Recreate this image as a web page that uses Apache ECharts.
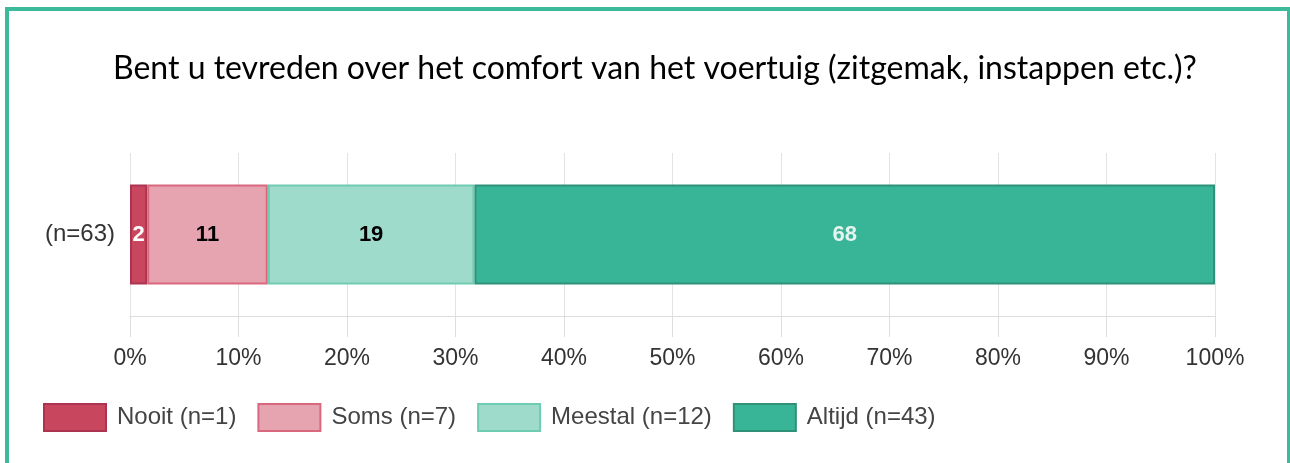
<!DOCTYPE html>
<html>
<head>
<meta charset="utf-8">
<script src="https://cdn.jsdelivr.net/npm/echarts@6/dist/echarts.min.js"></script>
<style>
  html, body { margin: 0; padding: 0; background: #fff; }
  .frame {
    position: absolute; left: 5px; top: 7px; width: 1278px; height: 470px;
    border: 4px solid #3dba9b; border-bottom: none;
  }
  #chart { position: absolute; left: 0; top: 0; width: 1290px; height: 463px; }
</style>
</head>
<body>
<div class="frame"></div>
<div id="chart"></div>
<script>
// data
const categories = ['(n=63)'];
const total = 63;
const seriesNames = ['Nooit (n=1)', 'Soms (n=7)', 'Meestal (n=12)', 'Altijd (n=43)'];
const counts = [1, 7, 12, 43];
const tickLabels = ['0%', '10%', '20%', '30%', '40%', '50%', '60%', '70%', '80%', '90%', '100%'];

const fills = ['#c8475f', '#e6a3b0', '#9edbcb', '#38b597'];
const borders = ['#ad3450', '#d9687f', '#6fcbb1', '#2f9178'];
const labelColors = ['#ffffff', '#000000', '#000000', '#e6f4ef'];

const chart = echarts.init(document.getElementById('chart'));

const series = seriesNames.map((name, i) => ({
  name: name,
  type: 'bar',
  stack: 'total',
  barWidth: 100,
  data: [counts[i] / total * 100],
  itemStyle: { color: fills[i], borderColor: borders[i], borderWidth: 2 },
  label: {
    show: true,
    position: 'inside',
    color: labelColors[i],
    fontFamily: 'Liberation Sans',
    fontWeight: 'bold',
    fontSize: 22,
    formatter: (p) => Math.round(p.value)
  }
}));

chart.setOption({
  animation: false,
  title: {
    text: 'Bent u tevreden over het comfort van het voertuig (zitgemak, instappen etc.)?',
    left: 108,
    top: 48,
    textStyle: { fontFamily: 'Lato', fontWeight: 'normal', fontSize: 32, color: '#000' }
  },
  legend: {
    left: 38,
    top: 398,
    itemWidth: 62,
    itemHeight: 27,
    itemGap: 21,
    icon: 'rect',
    textStyle: { fontFamily: 'Liberation Sans', fontSize: 24, color: '#444', padding: [0, 0, 0, 6] }
  },
  grid: { left: 130, right: 75, top: 153, bottom: 147 },
  xAxis: {
    type: 'value',
    min: 0,
    max: 100,
    interval: 10,
    axisLine: { show: true, lineStyle: { color: '#dddddd', width: 1 } },
    axisTick: { show: true, length: 21, lineStyle: { color: '#dddddd' } },
    splitLine: { show: true, lineStyle: { color: '#e3e3e3' } },
    axisLabel: {
      margin: 31,
      fontFamily: 'Liberation Sans',
      fontSize: 23,
      color: '#333',
      formatter: (v) => tickLabels[Math.round(v / 10)]
    }
  },
  yAxis: {
    type: 'category',
    data: categories,
    axisLine: { show: false },
    axisTick: { show: false },
    axisLabel: { margin: 15, fontFamily: 'Liberation Sans', fontSize: 24, color: '#333' }
  },
  series: series
});
</script>
</body>
</html>
